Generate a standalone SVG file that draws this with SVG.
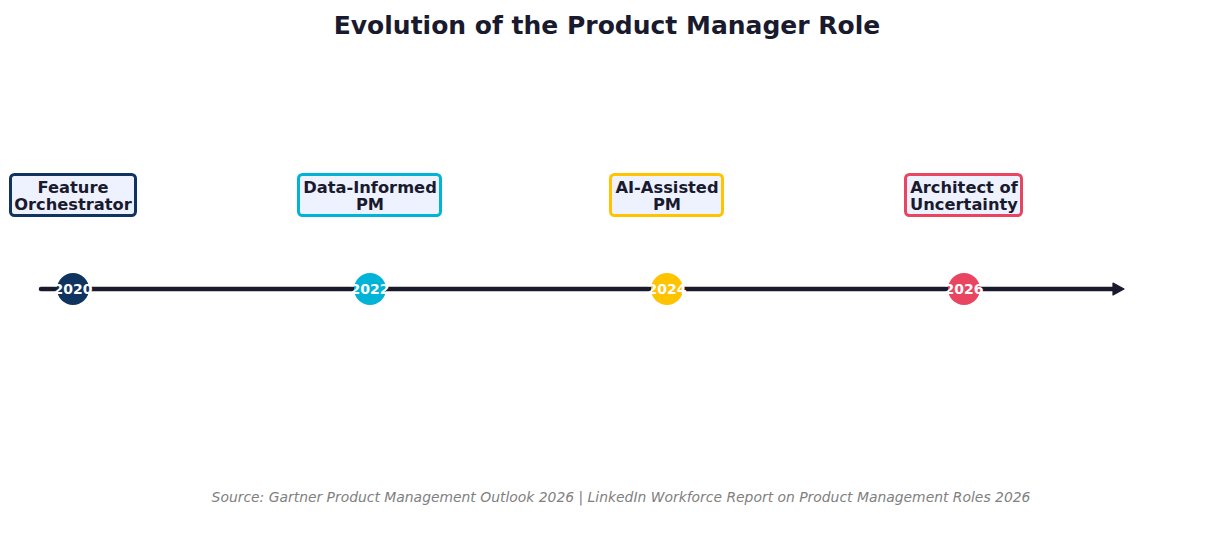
<svg xmlns="http://www.w3.org/2000/svg" width="1215" height="539" viewBox="0 0 1215 539">
<style>
.title{font-family:"DejaVu Sans",sans-serif;font-weight:bold;font-size:25px;fill:#1a1a2e;text-anchor:middle}
.lbl{font-family:"DejaVu Sans",sans-serif;font-weight:bold;font-size:16.3px;fill:#1a1a2e;text-anchor:middle}
.yr{font-family:"DejaVu Sans",sans-serif;font-weight:bold;font-size:14px;fill:#ffffff;text-anchor:middle}
.src{font-family:"DejaVu Sans",sans-serif;font-style:italic;font-size:13.9px;fill:#808080;text-anchor:middle}
.box{fill:#eef2ff;stroke-width:3}
</style>
<defs>
<marker id="arr" markerWidth="14" markerHeight="14" refX="1" refY="7" orient="auto" markerUnits="userSpaceOnUse">
<path d="M1,1 L12,7 L1,13 z" fill="#1a1a2e" stroke="#1a1a2e" stroke-width="1.2" stroke-linejoin="round"/>
</marker>
</defs>
<rect width="1215" height="539" fill="#ffffff"/>
<text class="title" x="607" y="34">Evolution of the Product Manager Role</text>
<g id="connectors">
<path d="M41,289 H1113" stroke="#1a1a2e" stroke-width="4.5" stroke-linecap="round" fill="none" marker-end="url(#arr)"/>
</g>
<g id="n2020">
<rect class="box" x="10.5" y="174.5" width="125" height="41" rx="4" stroke="#0f3460"/>
<text class="lbl" x="73" y="192.5">Feature</text>
<text class="lbl" x="73" y="210">Orchestrator</text>
<circle cx="73" cy="289" r="16" fill="#0f3460"/>
<text class="yr" x="73" y="294">2020</text>
</g>
<g id="n2022">
<rect class="box" x="298.5" y="174.5" width="142" height="41" rx="4" stroke="#00b4d8"/>
<text class="lbl" x="370" y="192.5">Data-Informed</text>
<text class="lbl" x="370" y="210">PM</text>
<circle cx="370" cy="289" r="16" fill="#00b4d8"/>
<text class="yr" x="370" y="294">2022</text>
</g>
<g id="n2024">
<rect class="box" x="610.5" y="174.5" width="112" height="41" rx="4" stroke="#ffc300"/>
<text class="lbl" x="667" y="192.5">AI-Assisted</text>
<text class="lbl" x="667" y="210">PM</text>
<circle cx="667" cy="289" r="16" fill="#ffc300"/>
<text class="yr" x="667" y="294">2024</text>
</g>
<g id="n2026">
<rect class="box" x="905.5" y="174.5" width="116" height="41" rx="4" stroke="#e94560"/>
<text class="lbl" x="964" y="192.5">Architect of</text>
<text class="lbl" x="964" y="210">Uncertainty</text>
<circle cx="964" cy="289" r="16" fill="#e94560"/>
<text class="yr" x="964" y="294">2026</text>
</g>
<text class="src" x="621" y="502">Source: Gartner Product Management Outlook 2026 | LinkedIn Workforce Report on Product Management Roles 2026</text>
</svg>
